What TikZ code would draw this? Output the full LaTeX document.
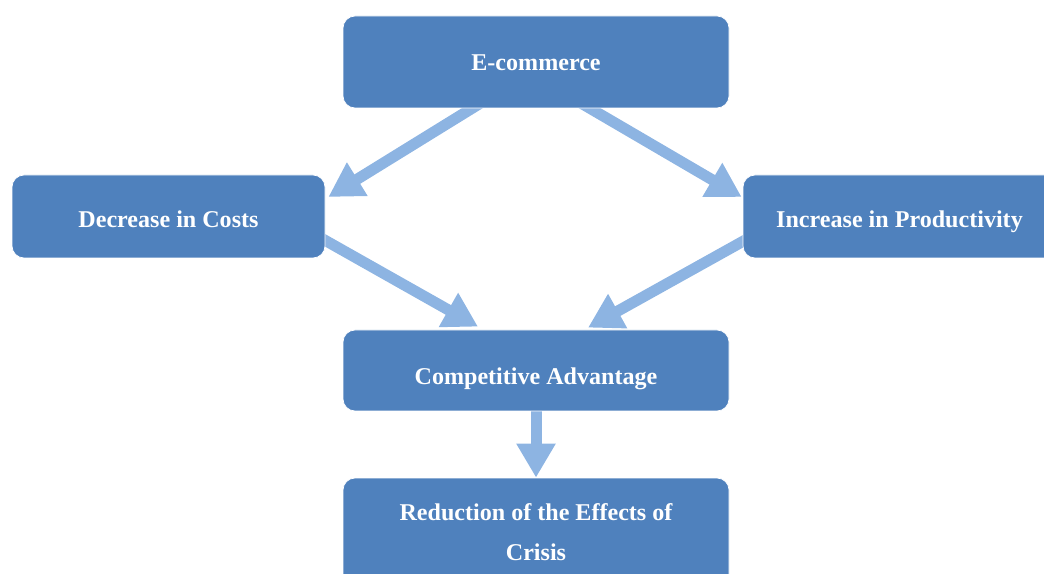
\documentclass[tikz,border=0pt]{standalone}
\usepackage{fontspec}
\setmainfont{Liberation Serif}
\usetikzlibrary{arrows.meta,backgrounds}
\definecolor{boxblue}{HTML}{4F81BD}
\definecolor{arrowblue}{HTML}{8DB4E2}

\begin{document}
\begin{tikzpicture}[
  box/.style={draw=white, line width=0.4pt, fill=boxblue, rounded corners=0.24cm,
    text=white, font=\fontsize{13.7}{22.8}\selectfont\bfseries, align=center, inner sep=0pt},
  textdrop/.style={text depth=0pt, text height=#1},
  flow/.style={draw=arrowblue, line width=0.22cm, shorten <=-0.3cm,
    -{Triangle[length=0.68cm,width=0.74cm]}}]
\useasboundingbox (0,0) rectangle (20.88,11.46);
% boxes
\node[box, textdrop=0.36cm, minimum width=7.72cm, minimum height=1.84cm] (ecom) at (10.72,10.22) {E-commerce};
\node[box, textdrop=0.46cm, minimum width=6.26cm, minimum height=1.66cm] (cost) at (3.37,7.13) {Decrease in Costs};
\node[box, textdrop=0.44cm, minimum width=6.26cm, minimum height=1.66cm] (prod) at (17.99,7.13) {Increase in Productivity};
\node[box, textdrop=0.58cm, minimum width=7.72cm, minimum height=1.62cm] (comp) at (10.72,4.05) {Competitive Advantage};
\node[box, minimum width=7.72cm, minimum height=2.16cm] (crisis) at (10.72,0.82) {Reduction of the Effects of\\Crisis};
% arrows, kept under the boxes
\begin{scope}[on background layer]
\draw[flow] ([xshift=-1.28cm]ecom.south) -- ([xshift=0.06cm,yshift=0.39cm]cost.east);
\draw[flow] ([xshift=1.08cm]ecom.south) -- ([xshift=-0.02cm,yshift=0.39cm]prod.west);
\draw[flow] ([yshift=-0.48cm]cost.east) -- ([xshift=-1.16cm,yshift=0.06cm]comp.north);
\draw[flow] ([yshift=-0.5cm]prod.west) -- ([xshift=1.04cm,yshift=0.04cm]comp.north);
\draw[flow] (comp.south) -- (crisis.north);
\end{scope}
\end{tikzpicture}
\end{document}
